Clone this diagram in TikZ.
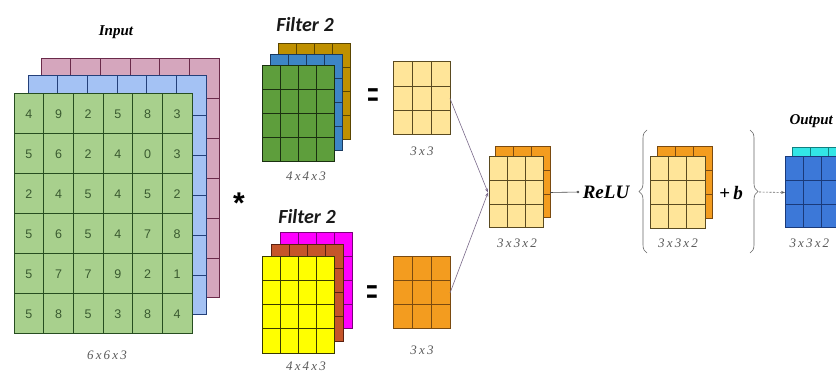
\documentclass[tikz,border=0pt]{standalone}
\usepackage{fontspec}
\setmainfont{Liberation Serif}
\newfontfamily\numfont{Liberation Sans}
\newfontfamily\filtfont{Carlito}
\usetikzlibrary{arrows.meta,decorations.pathreplacing}
\definecolor{ingreen}{HTML}{A8D08D}
\definecolor{ingreenl}{HTML}{264D20}
\definecolor{inblue}{HTML}{A4C2F4}
\definecolor{inbluel}{HTML}{24407A}
\definecolor{inpink}{HTML}{D5A6BD}
\definecolor{inpinkl}{HTML}{6A2A4A}
\definecolor{fgreen}{HTML}{5E9E3C}
\definecolor{fgreenl}{HTML}{1A3010}
\definecolor{fblue}{HTML}{3D85C6}
\definecolor{fbluel}{HTML}{1A3A60}
\definecolor{fgold}{HTML}{BF9000}
\definecolor{fgoldl}{HTML}{5A4500}
\definecolor{fyellow}{HTML}{FFFF00}
\definecolor{fyellowl}{HTML}{3A3A00}
\definecolor{fbrown}{HTML}{C5552A}
\definecolor{fbrownl}{HTML}{5A2010}
\definecolor{fmag}{HTML}{FF00FF}
\definecolor{fmagl}{HTML}{7A007A}
\definecolor{lyel}{HTML}{FFE599}
\definecolor{lyell}{HTML}{5A4A20}
\definecolor{orng}{HTML}{F39C1F}
\definecolor{orngl}{HTML}{7A4A10}
\definecolor{oblue}{HTML}{3C78D8}
\definecolor{obluel}{HTML}{1A3A7A}
\definecolor{ocyan}{HTML}{33E6E6}
\definecolor{ocyanl}{HTML}{108080}
\definecolor{numcol}{HTML}{3A5A30}
\definecolor{dimcol}{HTML}{5A5A5A}
\definecolor{linkcol}{HTML}{7A6A8A}
% #1 name, #2 x, #3 y, #4 w, #5 h, #6 cols, #7 rows, #8 fill, #9 line colour
\newcommand\gridlayer[9]{%
  \node[inner sep=0pt, outer sep=0pt, minimum width=#4pt, minimum height=#5pt,
        anchor=north west, fill=#8, draw=#9, line width=1pt] (#1) at (#2,#3) {};
  \foreach \k in {1,...,#6}{\draw[#9, line width=1pt] ({#2+\k*#4/#6},#3) -- ++(0,#5);}
  \foreach \k in {1,...,#7}{\draw[#9, line width=1pt] (#2,{#3+\k*#5/#7}) -- ++(#4,0);}
}
\tikzset{
  dimlabel/.style={font=\itshape\fontsize{13}{13}\selectfont, text=dimcol},
  titlelabel/.style={font=\bfseries\itshape\fontsize{15}{15}\selectfont},
  filtlabel/.style={font=\filtfont\bfseries\itshape\fontsize{20}{20}\selectfont, text=black!90},
  numlabel/.style={font=\numfont\fontsize{12.5}{12.5}\selectfont, text=numcol},
  linkline/.style={linkcol, line width=0.6pt, -{Stealth[length=4pt,width=3pt]}},
  bracestyle/.style={decorate, decoration={brace, amplitude=8pt}, line width=0.6pt, black!60},
  starlabel/.style={font=\numfont\bfseries\fontsize{30}{30}\selectfont},
  eqlabel/.style={font=\bfseries\fontsize{26}{26}\selectfont},
}
\begin{document}
\begin{tikzpicture}[x=1pt,y=-1pt]
\useasboundingbox (0,0) rectangle (836,374);
\clip (0,0) rectangle (836,374);
\fill[white] (0,0) rectangle (836,374);
% Input
\node[titlelabel] (inlab) at (116,32) {Input};
\gridlayer{inpinkb}{41}{59}{178}{239}{6}{6}{inpink}{inpinkl}
\gridlayer{inblueb}{28}{76}{178}{239}{6}{6}{inblue}{inbluel}
\gridlayer{ingreenb}{14}{94}{178}{240}{6}{6}{ingreen}{ingreenl}
\foreach \i/\row in {1/{4,9,2,5,8,3},2/{5,6,2,4,0,3},3/{2,4,5,4,5,2},4/{5,6,5,4,7,8},5/{5,7,7,9,2,1},6/{5,8,5,3,8,4}}{
  \foreach \v [count=\j] in \row {
    \node[numlabel] (n\i\j) at ({14+(\j-0.5)*178/6},{94+(\i-0.5)*40}) {\v};
  }
}
\node[dimlabel] (indim) at (107,355) {6\,x\,6\,x\,3};
% asterisk
\node[starlabel] (astk) at (239,203) {*};
% Filter top
\node[filtlabel] (f1lab) at (305,25) {Filter 2};
\gridlayer{f1c}{278}{44}{72}{96}{4}{4}{fgold}{fgoldl}
\gridlayer{f1b}{270}{55}{72}{96}{4}{4}{fblue}{fbluel}
\gridlayer{f1a}{262}{66}{72}{96}{4}{4}{fgreen}{fgreenl}
\node[dimlabel] (f1dim) at (306,176) {4\,x\,4\,x\,3};
\node[eqlabel] (eq1) at (373,100) {\scalebox{0.8}[1.8]{=}};
\gridlayer{r1}{393}{62}{57}{73}{3}{3}{lyel}{lyell}
\node[dimlabel] (r1dim) at (422,151) {3\,x\,3};
% Filter bottom
\node[filtlabel] (f2lab) at (307,217) {Filter 2};
\gridlayer{f2c}{280}{233}{72}{96}{4}{4}{fmag}{fmagl}
\gridlayer{f2b}{271}{245}{72}{96}{4}{4}{fbrown}{fbrownl}
\gridlayer{f2a}{262}{257}{72}{96}{4}{4}{fyellow}{fyellowl}
\node[dimlabel] (f2dim) at (306,366) {4\,x\,4\,x\,3};
\node[eqlabel] (eq2) at (372,297) {\scalebox{0.8}[1.8]{=}};
\gridlayer{r2}{393}{257}{57}{72}{3}{3}{orng}{orngl}
\node[dimlabel] (r2dim) at (422,350) {3\,x\,3};
% combined stack
\gridlayer{s1b}{495}{147}{55}{71}{3}{3}{orng}{orngl}
\gridlayer{s1}{489}{157}{54}{71}{3}{3}{lyel}{lyell}
\node[dimlabel] (s1dim) at (517,243) {3\,x\,3\,x\,2};
\draw[linkline] (r1.east) -- ([xshift=-1pt]s1.west);
\draw[linkline] (r2.east) -- ([xshift=-1pt]s1.west);
% ReLU
\node[font=\bfseries\itshape\fontsize{19}{19}\selectfont] (relu) at (606,192) {ReLU};
\draw[black!70, line width=0.6pt, -{Circle[length=2.5pt]}] (s1.east -| s1b.east) -- (relu.west);
\draw[bracestyle] (647,253) -- (647,130);
\gridlayer{s2b}{657}{147}{55}{72}{3}{3}{orng}{orngl}
\gridlayer{s2}{650}{157}{55}{72}{3}{3}{lyel}{lyell}
\node[dimlabel] (s2dim) at (678,243) {3\,x\,3\,x\,2};
\node[font=\bfseries\fontsize{19}{19}\selectfont] (plusb) at (731,193) {+\,\textit{b}};
\draw[bracestyle] (750,130) -- (750,253);
\coordinate (bracetip) at (759,192);
% Output
\node[titlelabel, anchor=west] (outlab) at (786,121) {Output};
\gridlayer{outb}{792}{148}{55}{72}{3}{3}{ocyan}{ocyanl}
\gridlayer{outa}{785}{157}{55}{71}{3}{3}{oblue}{obluel}
\node[dimlabel, anchor=west] (outdim) at (786,243) {3\,x\,3\,x\,2};
\draw[black!60, line width=0.6pt, dash pattern=on 2pt off 1.5pt, -{Stealth[length=4pt,width=3pt]}] (bracetip) -- (outa.west);
\end{tikzpicture}
\end{document}
